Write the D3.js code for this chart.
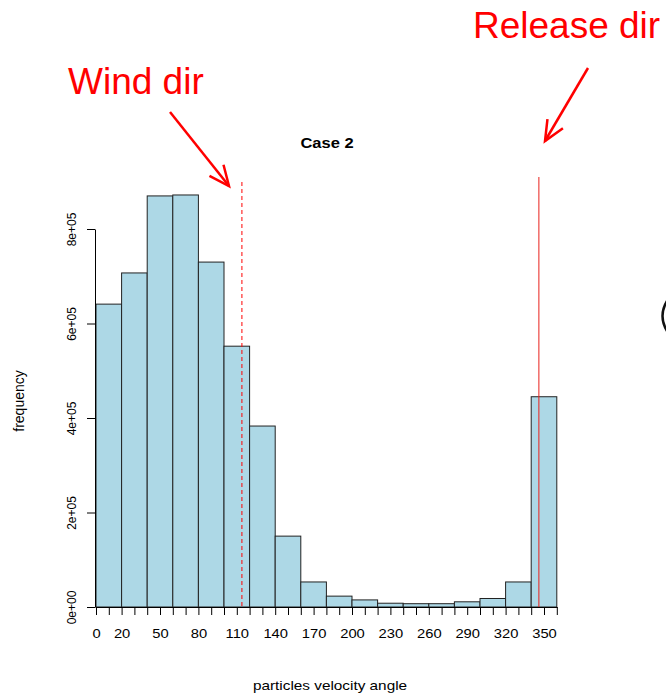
<!DOCTYPE html>
<html>
<head>
<meta charset="utf-8">
<script src="https://cdn.jsdelivr.net/npm/d3@7"></script>
<style>
  body { margin: 0; background: #fff; }
  svg { font-family: "Liberation Sans", Arial, sans-serif; }
  .axis path, .axis line { stroke: #000; }
  .axis text { fill: #000; }
</style>
</head>
<body>
<div id="chart"></div>
<script>
// histogram bins (degrees) and counts
const binEdges = [0, 20, 40, 60, 80, 100, 120, 140, 160, 180, 200, 220, 240, 260, 280, 300, 320, 340, 360];
const counts = [641000, 707000, 870000, 872000, 730000, 552000, 383000, 150000, 53000, 23000,
                15000, 8000, 7000, 7000, 11000, 18000, 53000, 445000];
const xTickLabels = [0, 20, 50, 80, 110, 140, 170, 200, 230, 260, 290, 320, 350];
const yTicks = [0, 200000, 400000, 600000, 800000];
const windDir = 114;
const releaseDir = 346;

var svg = d3.select("#chart").append("svg").attr("width", 666).attr("height", 695);

var x = d3.scaleLinear().domain([0, 360]).range([96, 556.8]);
var y = d3.scaleLinear().domain([0, 800000]).range([607, 229]);

var bins = counts.map(function(c, i){ return {x0: binEdges[i], x1: binEdges[i+1], n: c}; });

svg.selectAll("rect.bar").data(bins).enter().append("rect")
  .attr("class", "bar")
  .attr("x", d => x(d.x0))
  .attr("y", d => y(d.n))
  .attr("width", d => x(d.x1) - x(d.x0))
  .attr("height", d => y(0) - y(d.n))
  .attr("fill", "#add8e6")
  .attr("stroke", "#222")
  .attr("stroke-width", 1);

// x axis, tick every 10 deg, labels only where R kept them
var xAxis = d3.axisBottom(x)
  .tickValues(d3.range(0, 361, 10))
  .tickSize(8).tickSizeOuter(0)
  .tickFormat(d => xTickLabels.indexOf(d) >= 0 ? d : "");
svg.append("g").attr("class", "axis").attr("transform", "translate(0,607)").call(xAxis)
  .call(g => g.selectAll("text")
    .attr("y", 31).attr("dy", 0)
    .style("font-size", "12.5px")
    .attr("transform", "scale(1.18,1)"));

var yAxis = d3.axisLeft(y)
  .tickValues(yTicks)
  .tickSize(8).tickSizeOuter(0)
  .tickFormat(d => d === 0 ? "0e+00" : (d / 100000) + "e+05");
svg.append("g").attr("class", "axis").attr("transform", "translate(95,0)").call(yAxis)
  .call(g => g.selectAll("text")
    .attr("transform", "rotate(-90)")
    .attr("x", 0).attr("dx", 0)
    .attr("y", -19).attr("dy", 0)
    .style("font-size", "12px")
    .style("text-anchor", "middle"));

// reference lines
svg.append("line")
  .attr("x1", x(windDir)).attr("x2", x(windDir))
  .attr("y1", 182).attr("y2", 607)
  .attr("stroke", "#ff0000").attr("stroke-width", 1)
  .attr("stroke-dasharray", "4,3");
svg.append("line")
  .attr("x1", x(releaseDir)).attr("x2", x(releaseDir))
  .attr("y1", 177).attr("y2", 607)
  .attr("stroke", "#e8201c").attr("stroke-width", 1);

// titles
svg.append("text").attr("transform", "translate(327,147.5) scale(1.1,1)")
  .attr("text-anchor", "middle").style("font-weight", "bold").style("font-size", "15px")
  .text("Case 2");
svg.append("text").attr("transform", "translate(330,690) scale(1.18,1)")
  .attr("text-anchor", "middle").style("font-size", "13px")
  .text("particles velocity angle");
svg.append("text").attr("transform", "translate(24,401) rotate(-90)")
  .attr("text-anchor", "middle").style("font-size", "14px")
  .text("frequency");

// annotations
svg.append("text").attr("x", 68).attr("y", 94)
  .attr("fill", "#ff0000").style("font-size", "37px").text("Wind dir");
svg.append("text").attr("x", 473).attr("y", 38)
  .attr("fill", "#ff0000").style("font-size", "37px").text("Release dir");

function arrow(x1, y1, x2, y2){
  var a = Math.atan2(y2 - y1, x2 - x1), len = 22, sp = 0.42;
  svg.append("line").attr("x1", x1).attr("y1", y1).attr("x2", x2).attr("y2", y2)
    .attr("stroke", "#ff0000").attr("stroke-width", 2.5);
  var p = [[x2 - len * Math.cos(a - sp), y2 - len * Math.sin(a - sp)], [x2, y2],
           [x2 - len * Math.cos(a + sp), y2 - len * Math.sin(a + sp)]];
  svg.append("path").attr("d", d3.line()(p))
    .attr("fill", "none").attr("stroke", "#ff0000").attr("stroke-width", 2.5);
}
arrow(170, 112, 229, 186);
arrow(588, 68, 545, 141);

// cut-off bracket fragment at the right edge of the slide
svg.append("path").attr("d", "M667,301 Q658,316 667,331")
  .attr("fill", "none").attr("stroke", "#111").attr("stroke-width", 2.5);
</script>
</body>
</html>
